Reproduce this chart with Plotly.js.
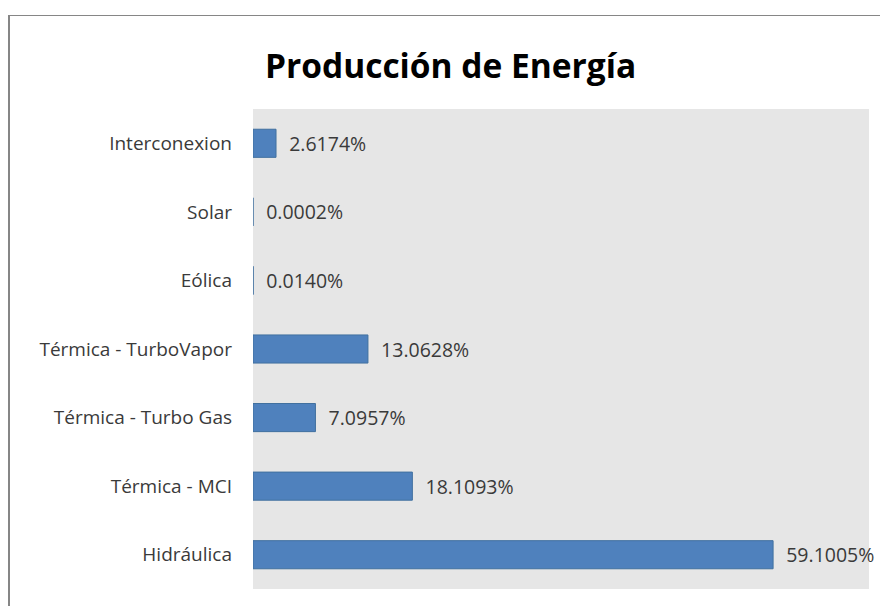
<!DOCTYPE html>
<html>
<head>
<meta charset="utf-8">
<script src="https://cdn.plot.ly/plotly-3.0.1.min.js"></script>
<style>
  html, body { margin: 0; padding: 0; background: #fff; }
  #wrap { position: relative; width: 880px; height: 606px; overflow: hidden; }
  #chart { position: absolute; left: 0; top: 0; width: 880px; height: 606px; }
  #frame { position: absolute; left: 8px; top: 15px; width: 1000px; height: 1000px;
           border-left: 2px solid #868686; border-top: 1px solid #868686; pointer-events: none; }
</style>
</head>
<body>
<div id="wrap">
  <div id="chart"></div>
  <div id="frame"></div>
</div>
<script>
const categories = ["Hidráulica", "Térmica - MCI", "Térmica - Turbo Gas", "Térmica - TurboVapor", "Eólica", "Solar", "Interconexion"];
const shares = [59.1005, 18.1093, 7.0957, 13.0628, 0.0140, 0.0002, 2.6174];
const shareLabels = ["59.1005%", "18.1093%", "7.0957%", "13.0628%", "0.0140%", "0.0002%", "2.6174%"];
const chartTitle = "Producción de Energía";

const font = "Open Sans, Noto Sans, sans-serif";

const trace = {
  type: "bar",
  orientation: "h",
  y: categories,
  x: shares,
  text: shareLabels.map(s => "\u00a0\u00a0" + s),
  textposition: "outside",
  constraintext: "none",
  cliponaxis: false,
  textfont: { family: font, size: 19.5, color: "#3a3a3a" },
  width: 0.41,
  marker: { color: "#4f81bd", line: { color: "#41709f", width: 1 } },
  hoverinfo: "none"
};

const layout = {
  width: 880,
  height: 606,
  margin: { l: 253, r: 11, t: 109, b: 17 },
  paper_bgcolor: "#ffffff",
  plot_bgcolor: "#e6e6e6",
  showlegend: false,
  title: {
    text: "<b>" + chartTitle + "</b>",
    font: { family: font, size: 33.5, color: "#000000" },
    xref: "container", yref: "container",
    x: 0.512, y: 1 - 66 / 606,
    xanchor: "center", yanchor: "middle"
  },
  xaxis: {
    range: [0, 70],
    showgrid: false,
    zeroline: false,
    showticklabels: false,
    ticks: "",
    showline: false,
    fixedrange: true
  },
  yaxis: {
    type: "category",
    showgrid: false,
    zeroline: false,
    showline: false,
    ticks: "",
    ticklabelstandoff: 20,
    tickfont: { family: font, size: 19, color: "#3a3a3a" },
    automargin: false,
    fixedrange: true
  }
};

Plotly.newPlot("chart", [trace], layout, { displayModeBar: false, staticPlot: true });
</script>
</body>
</html>
